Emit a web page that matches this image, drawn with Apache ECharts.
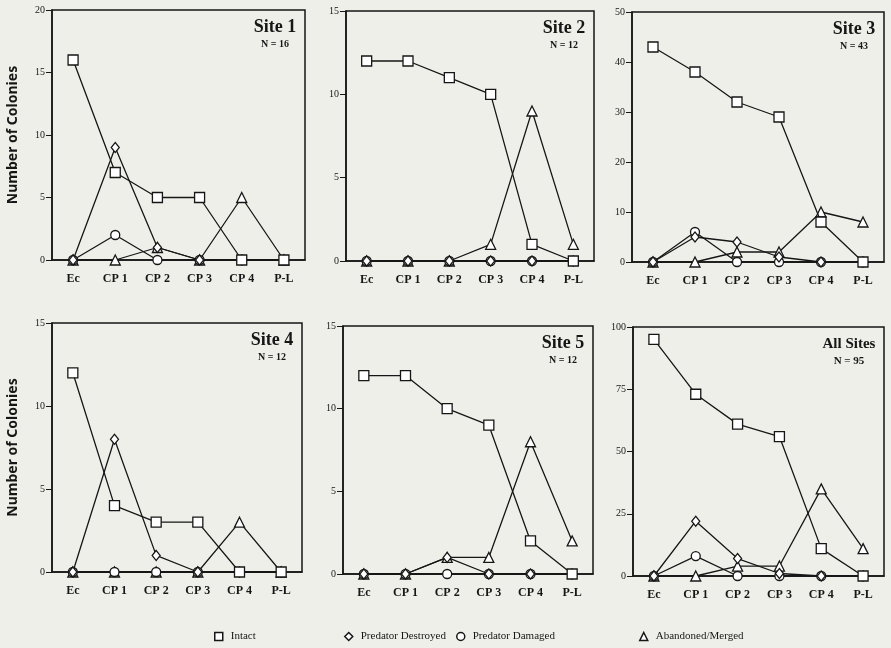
<!DOCTYPE html>
<html>
<head>
<meta charset="utf-8">
<script src="https://cdn.jsdelivr.net/npm/echarts@6/dist/echarts.min.js"></script>
<style>
  html, body { margin: 0; padding: 0; background: #efefea; }
  #chart { width: 891px; height: 648px; }
</style>
</head>
<body>
<div id="chart"></div>
<script>
// stages on the x axis
const stages = ['Ec', 'CP 1', 'CP 2', 'CP 3', 'CP 4', 'P-L'];

// one entry per panel
const siteNames = ['Site 1', 'Site 2', 'Site 3', 'Site 4', 'Site 5', 'All Sites'];
const siteN = [16, 12, 43, 12, 12, 95];
const yMax = [20, 15, 50, 15, 15, 100];
const yStep = [5, 5, 10, 5, 5, 25];

// colony counts per stage, one row per panel
const intact = [
  [16, 7, 5, 5, 0, 0],
  [12, 12, 11, 10, 1, 0],
  [43, 38, 32, 29, 8, 0],
  [12, 4, 3, 3, 0, 0],
  [12, 12, 10, 9, 2, 0],
  [95, 73, 61, 56, 11, 0]
];
const predDestroyed = [
  [0, 9, 1, 0, 0, 0],
  [0, 0, 0, 0, 0, 0],
  [0, 5, 4, 1, 0, 0],
  [0, 8, 1, 0, 0, 0],
  [0, 0, 1, 0, 0, 0],
  [0, 22, 7, 1, 0, 0]
];
const predDamaged = [
  [0, 2, 0, 0, 0, 0],
  [0, 0, 0, 0, 0, 0],
  [0, 6, 0, 0, 0, 0],
  [0, 0, 0, 0, 0, 0],
  [0, 0, 0, 0, 0, 0],
  [0, 8, 0, 0, 0, 0]
];
const abandoned = [
  [0, 0, 1, 0, 5, 0],
  [0, 0, 0, 1, 9, 1],
  [0, 0, 2, 2, 10, 8],
  [0, 0, 0, 0, 3, 0],
  [0, 0, 1, 1, 8, 2],
  [0, 0, 4, 4, 35, 11]
];

// panel boxes [left, top, width, height]
const boxes = [
  [52, 10, 253, 250],
  [346, 11, 248, 250],
  [632, 12, 252, 250],
  [52, 323, 250, 249],
  [343, 326, 250, 248],
  [633, 327, 251, 249]
];

const ink = '#161616';
const serif = '"Liberation Serif", "DejaVu Serif", serif';

// z decides which marker sits on top where values coincide
const seriesDefs = [
  { name: 'Intact', rows: intact, symbol: 'rect', size: 10, z: 5 },
  { name: 'Predator Destroyed', rows: predDestroyed, symbol: 'diamond', size: [8, 10], z: 4 },
  { name: 'Predator Damaged', rows: predDamaged, symbol: 'circle', size: 9, z: 3 },
  { name: 'Abandoned/Merged', rows: abandoned, symbol: 'triangle', size: 10, z: 2 }
];

const grids = [], xAxes = [], yAxes = [], series = [], graphics = [];

boxes.forEach((b, i) => {
  grids.push({
    left: b[0], top: b[1], width: b[2], height: b[3],
    show: true, borderColor: ink, borderWidth: 1.5, backgroundColor: 'transparent'
  });
  xAxes.push({
    type: 'category', gridIndex: i, data: stages, boundaryGap: true,
    axisLine: { lineStyle: { color: ink, width: 1.5 } },
    axisTick: { alignWithLabel: true, length: 3, lineStyle: { color: ink } },
    axisLabel: { color: ink, fontFamily: serif, fontWeight: 'bold', fontSize: 12, margin: 13 }
  });
  yAxes.push({
    type: 'value', gridIndex: i, min: 0, max: yMax[i], interval: yStep[i],
    splitLine: { show: false },
    axisLine: { show: true, lineStyle: { color: ink, width: 1.5 } },
    axisTick: { show: true, length: 6, lineStyle: { color: ink } },
    axisLabel: { color: ink, fontFamily: serif, fontSize: 10, margin: 7 },
    name: (i % 3 === 0) ? 'Number of Colonies' : '',
    nameLocation: 'middle', nameGap: 32, nameRotate: 90,
    nameTextStyle: { color: ink, fontFamily: '"Noto Sans", sans-serif', fontWeight: 'bold', fontSize: 14 }
  });
  seriesDefs.forEach(d => {
    series.push({
      name: d.name, type: 'line', xAxisIndex: i, yAxisIndex: i, z: d.z,
      data: d.rows[i],
      symbol: d.symbol, symbolSize: d.size, showSymbol: true,
      lineStyle: { color: ink, width: 1.3 },
      itemStyle: { color: '#fff', borderColor: ink, borderWidth: 1.3 },
      emphasis: { disabled: true }
    });
  });

  // panel title and N
  const isAll = i === 5;
  const cx = b[0] + b[2] - (isAll ? 35 : 30);
  const top = b[1];
  graphics.push({
    type: 'text', x: cx, y: top + 17,
    style: {
      text: siteNames[i], fill: ink, textAlign: 'center', textVerticalAlign: 'middle',
      font: 'bold ' + (isAll ? 15 : 18) + 'px ' + serif
    }
  });
  graphics.push({
    type: 'text', x: cx, y: top + 34,
    style: {
      text: 'N = ' + siteN[i], fill: ink, textAlign: 'center', textVerticalAlign: 'middle',
      font: 'bold ' + (isAll ? 11 : 10) + 'px ' + serif
    }
  });
});

// four separate legend pieces so the uneven spacing can be kept
const legendSpots = [209, 339, 451, 634];
const legendIcons = ['rect', 'diamond', 'circle', 'triangle'];
const legends = seriesDefs.map((d, k) => ({
  left: legendSpots[k], top: 626,
  data: [{ name: d.name, icon: legendIcons[k] }],
  itemWidth: 8, itemHeight: 8, itemGap: 5,
  selectedMode: false,
  itemStyle: { color: '#fff', borderColor: ink, borderWidth: 1.5 },
  textStyle: { color: ink, fontFamily: serif, fontSize: 11, padding: [0, 0, 0, 3] }
}));

const chart = echarts.init(document.getElementById('chart'));
chart.setOption({
  backgroundColor: '#efefea',
  animation: false,
  grid: grids,
  xAxis: xAxes,
  yAxis: yAxes,
  legend: legends,
  graphic: graphics,
  series: series
});
window.addEventListener('resize', () => chart.resize());
</script>
</body>
</html>
